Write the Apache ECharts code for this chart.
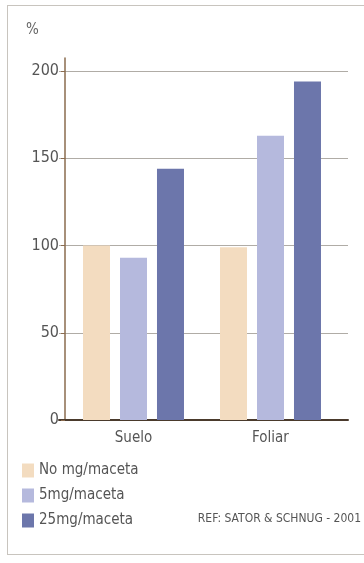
<!DOCTYPE html>
<html><head><meta charset="utf-8">
<script src="https://cdn.jsdelivr.net/npm/echarts@6/dist/echarts.min.js"></script>
<style>
html,body{margin:0;padding:0;background:#fff;}
#frame{position:absolute;left:7px;top:5px;width:380px;height:550px;border:1px solid #c8c4be;box-sizing:border-box;}
#chart{position:absolute;left:0;top:0;width:364px;height:563px;}
</style></head>
<body>
<div id="frame"></div>
<div id="chart"></div>
<script>
const categories = ['Suelo', 'Foliar'];
const seriesNames = ['No mg/maceta', '5mg/maceta', '25mg/maceta'];
const noMg = [100, 99];
const mg5 = [93, 163];
const mg25 = [144, 194];
const yTicks = [0, 50, 100, 150, 200];

const FONT = '"Liberation Sans Narrow","DejaVu Sans Condensed","Open Sans",sans-serif';
const colors = ['#f3dcc0', '#b5b9dd', '#6c76ab'];
const values = [noMg, mg5, mg25];

const chart = echarts.init(document.getElementById('chart'), null, {renderer: 'canvas'});
const yMax = 207.5;
chart.setOption({
  animation: false,
  color: colors,
  textStyle: {fontFamily: FONT},
  graphic: [
    {type: 'text', left: 26, top: 23, style: {text: '%', fontSize: 15, fill: '#666', fontFamily: FONT}},
    {type: 'text', right: 3, top: 513, style: {text: 'REF: SATOR & SCHNUG - 2001', fontSize: 12, fill: '#555', fontFamily: FONT}}
  ],
  legend: {
    orient: 'vertical', left: 22, top: 463, itemGap: 10, padding: 0,
    itemWidth: 12, itemHeight: 14, icon: 'rect', itemTextGap: 6,
    data: seriesNames,
    textStyle: {fontSize: 15, color: '#555', fontFamily: FONT}
  },
  grid: [
    {left: 65, right: 25, top: 58, bottom: 143},
    {left: 59, right: 16, top: 58, bottom: 143}
  ],
  xAxis: [
    {type: 'category', gridIndex: 0, data: categories,
     axisLine: {show: false}, axisTick: {show: false},
     axisLabel: {fontSize: 15, color: '#555', margin: 11, fontFamily: FONT}},
    {type: 'value', gridIndex: 1, min: 0, max: 1, show: true,
     axisLine: {show: true, lineStyle: {color: '#4a3a2c', width: 2}},
     axisTick: {show: false}, axisLabel: {show: false}, splitLine: {show: false}}
  ],
  yAxis: [
    {type: 'value', gridIndex: 0, min: 0, max: yMax, interval: 50,
     axisLine: {show: true, lineStyle: {color: '#8a6b4e', width: 1.5}},
     axisTick: {show: true, length: 4, lineStyle: {color: '#8a6b4e'}},
     splitLine: {show: false},
     axisLabel: {fontSize: 16, color: '#555', margin: 6, fontFamily: FONT, showMaxLabel: false,
       formatter: v => yTicks.includes(v) ? String(v) : ''}},
    {type: 'value', gridIndex: 1, min: 0, max: yMax, interval: 50,
     axisLine: {show: false}, axisTick: {show: false}, axisLabel: {show: false},
     splitLine: {show: true, showMaxLine: false, showMinLine: false, lineStyle: {color: '#b0aca6', width: 1}}}
  ],
  series: seriesNames.map((n, i) => ({
    name: n, type: 'bar', xAxisIndex: 0, yAxisIndex: 0,
    data: values[i], barWidth: 27, barGap: '37%',
    itemStyle: {color: colors[i]}
  }))
});
</script>
</body></html>
